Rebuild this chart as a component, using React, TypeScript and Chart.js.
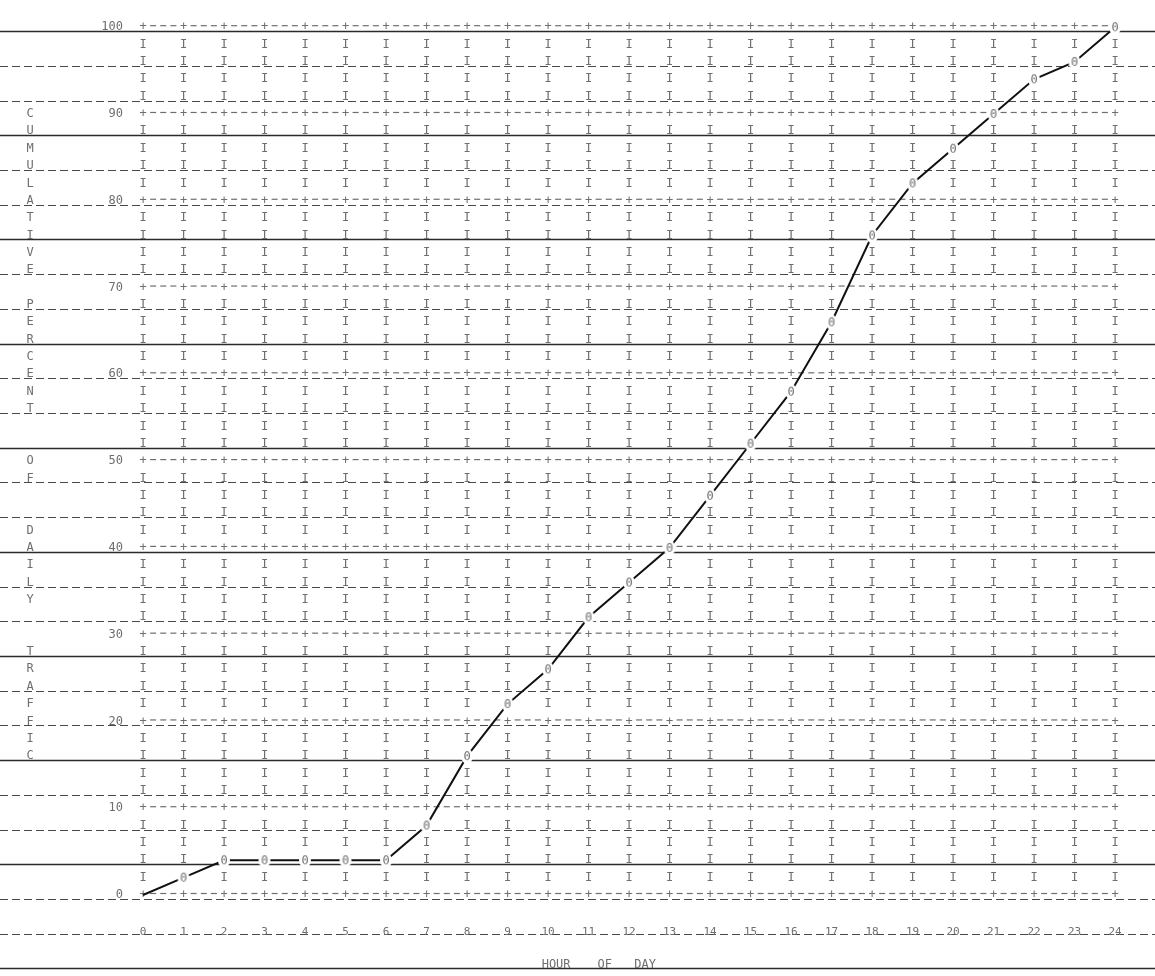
import React, { useEffect, useRef } from "react";
import { Chart, registerables } from "chart.js";

Chart.register(...registerables);

// ---- data ----
const hours = [0, 1, 2, 3, 4, 5, 6, 7, 8, 9, 10, 11, 12, 13, 14, 15, 16, 17, 18, 19, 20, 21, 22, 23, 24];
const hourLabels = ["0", "1", "2", "3", "4", "5", "6", "7", "8", "9", "10", "11", "12", "13", "14", "15", "16", "17", "18", "19", "20", "21", "22", "23", "24"];
const cumulativePercent = [0, 2, 4, 4, 4, 4, 4, 8, 16, 22, 26, 32, 36, 40, 46, 52, 58, 66, 76, 82, 86, 90, 94, 96, 100];
const yTickValues = [0, 10, 20, 30, 40, 50, 60, 70, 80, 90, 100];
const yTitleText = "CUMULATIVE PERCENT  OF  DAILY  TRAFFIC";
const yTitleFirstRow = 90;
const xTitleWords = ["HOUR", "OF", "DAY"];
const xTitleWordHours = [10.2, 11.4, 12.4];

const MONO = '"DejaVu Sans Mono", "Liberation Mono", monospace';
const INK = "#6e6e6e";

function makeMarker(): HTMLCanvasElement {
  const c = document.createElement("canvas");
  c.width = 14;
  c.height = 16;
  const g = c.getContext("2d")!;
  g.fillStyle = "#ffffff";
  g.beginPath();
  g.ellipse(7, 8, 6, 7.5, 0, 0, Math.PI * 2);
  g.fill();
  g.font = `12px ${MONO}`;
  g.fillStyle = INK;
  g.textAlign = "center";
  g.textBaseline = "middle";
  g.fillText("0", 7, 8.5);
  return c;
}

const printerPlugin = {
  id: "printerSheet",
  beforeDraw(chart: any) {
    const { ctx, width, height } = chart;
    const ys = chart.scales.y;
    ctx.save();
    ctx.fillStyle = "#ffffff";
    ctx.fillRect(0, 0, width, height);
    // ruled paper lines: every 2 printed rows, every third one solid
    for (let k = 0; k <= 27; k++) {
      const v = 100 - 4 * k;
      const py = Math.round(ys.getPixelForValue(v) + 4) + 0.5;
      ctx.beginPath();
      if (k % 3 === 0) {
        ctx.setLineDash([]);
        ctx.strokeStyle = "#2a2a2a";
        ctx.lineWidth = 1.6;
      } else {
        ctx.setLineDash([8, 4]);
        ctx.strokeStyle = "#484848";
        ctx.lineWidth = 1.1;
      }
      ctx.moveTo(0, py);
      ctx.lineTo(width, py);
      ctx.stroke();
    }
    ctx.restore();
  },
  beforeDatasetsDraw(chart: any) {
    const { ctx } = chart;
    const xs = chart.scales.x;
    const ys = chart.scales.y;
    ctx.save();
    ctx.font = `12px ${MONO}`;
    ctx.fillStyle = INK;
    ctx.strokeStyle = INK;
    ctx.lineWidth = 1.2;
    ctx.textAlign = "center";
    ctx.textBaseline = "middle";
    const pitch = xs.getPixelForValue(1) - xs.getPixelForValue(0);
    for (let v = 0; v <= 100; v += 2) {
      const py = ys.getPixelForValue(v);
      hours.forEach((h, i) => {
        const px = xs.getPixelForValue(h);
        const hasMark = i > 0 && cumulativePercent[i] === v;
        if (v % 10 === 0) {
          if (!hasMark) ctx.fillText("+", px, py);
          if (i < hours.length - 1) {
            for (let j = 1; j <= 3; j++) {
              const cx = px + (pitch * j) / 4;
              ctx.beginPath();
              ctx.moveTo(cx - 3, py - 1.5);
              ctx.lineTo(cx + 3, py - 1.5);
              ctx.stroke();
            }
          }
        } else if (!hasMark) {
          ctx.fillText("I", px, py);
        }
      });
    }
    // stacked vertical axis title
    Array.from(yTitleText).forEach((ch, i) => {
      if (ch !== " ") ctx.fillText(ch, 30, ys.getPixelForValue(yTitleFirstRow - 2 * i));
    });
    // horizontal axis title
    const ty = ys.getPixelForValue(0) + 70;
    xTitleWords.forEach((w, i) => {
      ctx.fillText(w, xs.getPixelForValue(xTitleWordHours[i]), ty);
    });
    ctx.restore();
  },
};

export default function App() {
  const ref = useRef<HTMLCanvasElement | null>(null);
  useEffect(() => {
    const canvas = ref.current;
    if (!canvas) return;
    const marker = makeMarker();
    const chart = new Chart(canvas, {
      type: "line",
      data: {
        datasets: [
          {
            data: hours.map((h, i) => ({ x: h, y: cumulativePercent[i] })),
            borderColor: "#111111",
            borderWidth: 2,
            tension: 0,
            pointStyle: marker as any,
            pointRadius: (c: any) => (c.dataIndex === 0 ? 0 : 6),
            pointHoverRadius: (c: any) => (c.dataIndex === 0 ? 0 : 6),
            clip: false as any,
          },
        ],
      },
      options: {
        animation: false,
        responsive: false,
        devicePixelRatio: 1,
        events: [],
        layout: { padding: { top: 13, right: 40, left: 0, bottom: 0 } },
        plugins: { legend: { display: false }, tooltip: { enabled: false } },
        scales: {
          x: {
            type: "linear",
            min: 0,
            max: 24,
            grid: { display: false, drawTicks: false },
            border: { display: false },
            afterFit: (s: any) => {
              s.height = 81;
            },
            ticks: {
              stepSize: 1,
              autoSkip: false,
              maxRotation: 0,
              padding: 31,
              color: INK,
              font: { family: MONO, size: 11 },
              callback: (v: any) => hourLabels[hours.indexOf(Number(v))] ?? "",
            },
          },
          y: {
            type: "linear",
            min: 0,
            max: 100,
            grid: { display: false, drawTicks: false },
            border: { display: false },
            afterFit: (s: any) => {
              s.width = 143;
            },
            afterBuildTicks: (s: any) => {
              s.ticks = yTickValues.map((v) => ({ value: v }));
            },
            ticks: {
              padding: 20,
              color: INK,
              font: { family: MONO, size: 12 },
              callback: (v: any) => String(v),
            },
          },
        },
      },
      plugins: [printerPlugin],
    });
    return () => chart.destroy();
  }, []);
  return (
    <div style={{ position: "absolute", left: 0, top: 0, width: 1155, height: 976 }}>
      <canvas ref={ref} width={1155} height={976} style={{ display: "block" }} />
    </div>
  );
}
